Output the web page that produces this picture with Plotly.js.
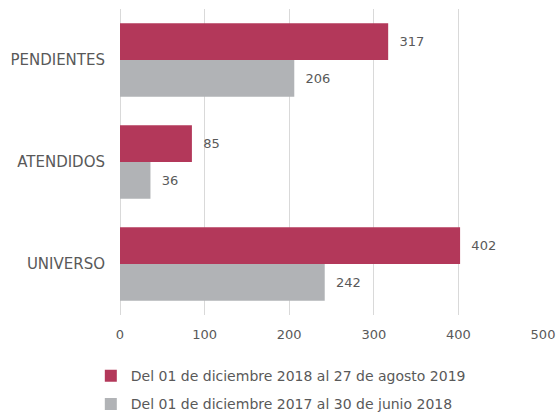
<!DOCTYPE html>
<html>
<head>
<meta charset="utf-8">
<script src="https://cdn.plot.ly/plotly-3.0.1.min.js"></script>
<style>html,body{margin:0;padding:0;background:#fff;}#chart{width:558px;height:412px;}</style>
</head>
<body>
<div id="chart"></div>
<script>
const categories = ["UNIVERSO", "ATENDIDOS", "PENDIENTES"];
const series2019 = [402, 85, 317];
const series2018 = [242, 36, 206];
const name2019 = "Del 01 de diciembre 2018 al 27 de agosto 2019";
const name2018 = "Del 01 de diciembre 2017 al 30 de junio 2018";
const xTicks = [0, 100, 200, 300, 400, 500];

const textColor = "#595959";
const fontFam = "DejaVu Sans, Open Sans, sans-serif";

const traces = [
  {
    type: "bar", orientation: "h", name: name2018,
    y: categories, x: series2018,
    marker: {color: "#b1b3b6"},
    text: series2018.map(v => "  " + v), textposition: "outside",
    textfont: {color: textColor, size: 13, family: fontFam},
    cliponaxis: false, legendgroup: "b", legendrank: 2
  },
  {
    type: "bar", orientation: "h", name: name2019,
    y: categories, x: series2019,
    marker: {color: "#b3385a"},
    text: series2019.map(v => "  " + v), textposition: "outside",
    textfont: {color: textColor, size: 13, family: fontFam},
    cliponaxis: false, legendgroup: "a", legendrank: 1
  }
];

const layout = {
  width: 558, height: 412,
  margin: {l: 120, r: 15, t: 9, b: 97},
  paper_bgcolor: "#fff", plot_bgcolor: "#fff",
  barmode: "group", bargap: 0.28, bargroupgap: 0,
  font: {family: fontFam, color: textColor, size: 13},
  xaxis: {
    range: [0, 500], tickvals: xTicks, ticktext: xTicks.map(String),
    showgrid: true, gridcolor: "#d9d9d9", gridwidth: 1,
    zeroline: true, zerolinecolor: "#d9d9d9", zerolinewidth: 1,
    showline: false, ticks: "", fixedrange: true, ticklabelstandoff: 10,
    tickfont: {size: 13, color: textColor}
  },
  yaxis: {
    range: [-0.5, 2.5], showgrid: false, zeroline: false, showline: false,
    ticks: "", ticklabelstandoff: 14,
    tickfont: {size: 15, color: textColor}
  },
  showlegend: true,
  legend: {
    orientation: "v", xref: "paper", yref: "container",
    x: -0.069, xanchor: "left", y: 0.126, yanchor: "top",
    traceorder: "grouped", tracegroupgap: 7,
    font: {size: 14, color: textColor}, bgcolor: "rgba(0,0,0,0)"
  }
};

Plotly.newPlot("chart", traces, layout, {displayModeBar: false, staticPlot: true});
</script>
</body>
</html>
